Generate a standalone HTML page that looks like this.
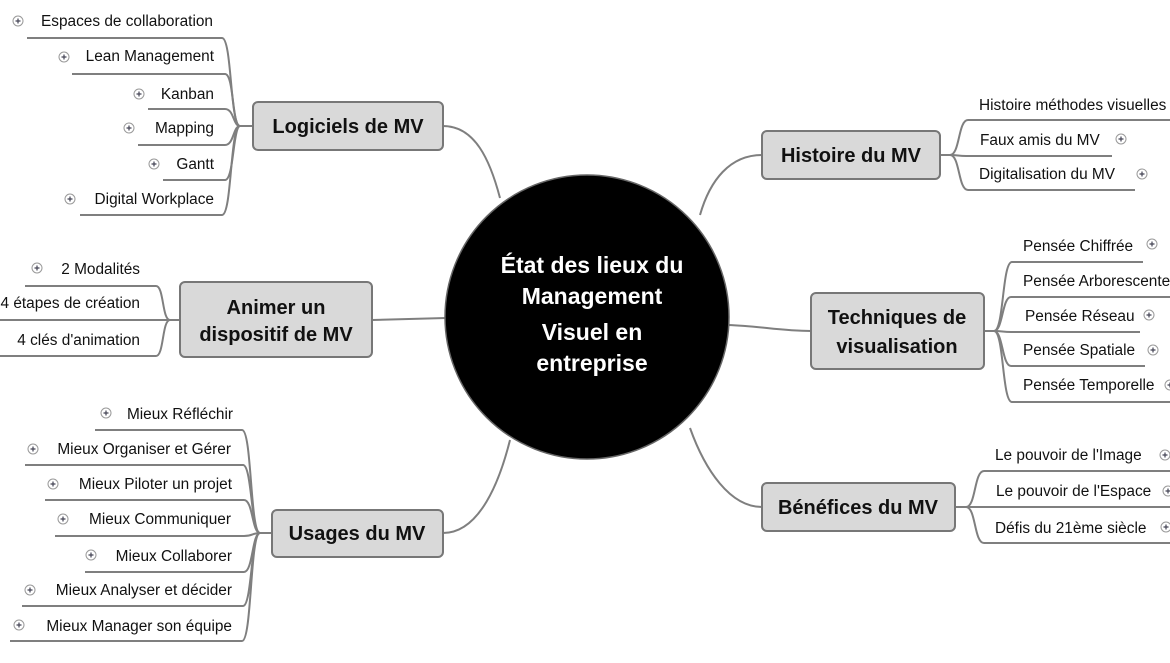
<!DOCTYPE html>
<html><head><meta charset="utf-8"><style>
html,body{margin:0;padding:0;background:#fff;}
svg{display:block;font-family:"Liberation Sans",sans-serif;}
.l{fill:none;stroke:#7f7f7f;stroke-width:2;}
.t{font-size:15.4px;fill:#111;}
.b{font-size:20px;font-weight:bold;fill:#111;text-anchor:middle;}
.box{fill:#d9d9d9;stroke:#777;stroke-width:2;}
</style></head><body>
<svg width="1170" height="663" viewBox="0 0 1170 663">
<defs>
<g id="p"><circle cx="0" cy="0" r="5" fill="#fff" stroke="#999" stroke-width="1"/><path d="M-2.5 0H2.5M0 -2.5V2.5" stroke="#445" stroke-width="1.2" fill="none"/></g>
</defs>
<!-- main connectors -->
<path class="l" d="M443 126 C475 126 490 160 500 198"/>
<path class="l" d="M372 320 L446 318"/>
<path class="l" d="M443 533 C480 533 500 480 510 440"/>
<path class="l" d="M762 155 C730 155 710 180 700 215"/>
<path class="l" d="M811 331 C780 331 760 326 728 325"/>
<path class="l" d="M762 507 C730 507 705 470 690 428"/>
<!-- Logiciels leaves -->
<g class="l">
<path d="M253 126 H240 C230 126 232 38 222 38 H27"/>
<path d="M240 126 C232 126 234 74 225 74 H72"/>
<path d="M240 126 C233 126 234 109 225 109 H148"/>
<path d="M240 126 C233 126 234 145 225 145 H138"/>
<path d="M240 126 C233 126 234 180 225 180 H163"/>
<path d="M240 126 C230 126 232 215 222 215 H80"/>
</g>
<g class="t" text-anchor="end">
<text x="213" y="26">Espaces de collaboration</text>
<text x="214" y="61">Lean Management</text>
<text x="214" y="99">Kanban</text>
<text x="214" y="133">Mapping</text>
<text x="214" y="169">Gantt</text>
<text x="214" y="204">Digital Workplace</text>
</g>
<!-- Animer leaves -->
<g class="l">
<path d="M180 320 H170 C162 320 164 286 156 286 H25"/>
<path d="M170 320 H0"/>
<path d="M170 320 C162 320 164 356 156 356 H0"/>
</g>
<g class="t" text-anchor="end">
<text x="140" y="274">2 Modalités</text>
<text x="140" y="308">4 étapes de création</text>
<text x="140" y="345">4 clés d'animation</text>
</g>
<!-- Usages leaves -->
<g class="l">
<path d="M272 533 H260 C250 533 252 430 242 430 H95"/>
<path d="M260 533 C251 533 252 465 243 465 H25"/>
<path d="M260 533 C252 533 253 500 244 500 H45"/>
<path d="M260 533 C252 533 253 536 244 536 H55"/>
<path d="M260 533 C252 533 253 572 244 572 H85"/>
<path d="M260 533 C251 533 252 606 243 606 H22"/>
<path d="M260 533 C250 533 252 641 242 641 H10"/>
</g>
<g class="t" text-anchor="end">
<text x="233" y="419">Mieux Réfléchir</text>
<text x="231" y="454">Mieux Organiser et Gérer</text>
<text x="232" y="489">Mieux Piloter un projet</text>
<text x="231" y="524">Mieux Communiquer</text>
<text x="232" y="561">Mieux Collaborer</text>
<text x="232" y="595">Mieux Analyser et décider</text>
<text x="232" y="631">Mieux Manager son équipe</text>
</g>
<!-- Histoire leaves -->
<g class="l">
<path d="M940 155 H950 C960 155 958 120 968 120 H1170"/>
<path d="M950 155 C958 155 958 156 966 156 H1112"/>
<path d="M950 155 C960 155 958 190 968 190 H1135"/>
</g>
<g class="t">
<text x="979" y="110">Histoire méthodes visuelles</text>
<text x="980" y="145">Faux amis du MV</text>
<text x="979" y="179">Digitalisation du MV</text>
</g>
<!-- Techniques leaves -->
<g class="l">
<path d="M984 331 H994 C1004 331 1002 262 1012 262 H1143"/>
<path d="M994 331 C1003 331 1002 297 1011 297 H1170"/>
<path d="M994 331 C1003 331 1002 332 1011 332 H1140"/>
<path d="M994 331 C1003 331 1002 366 1011 366 H1145"/>
<path d="M994 331 C1004 331 1002 402 1012 402 H1170"/>
</g>
<g class="t">
<text x="1023" y="251">Pensée Chiffrée</text>
<text x="1023" y="286">Pensée Arborescente</text>
<text x="1025" y="321">Pensée Réseau</text>
<text x="1023" y="355">Pensée Spatiale</text>
<text x="1023" y="390">Pensée Temporelle</text>
</g>
<!-- Bénéfices leaves -->
<g class="l">
<path d="M955 507 H966 C976 507 974 471 984 471 H1170"/>
<path d="M966 507 H1170"/>
<path d="M966 507 C976 507 974 543 984 543 H1170"/>
</g>
<g class="t">
<text x="995" y="460">Le pouvoir de l'Image</text>
<text x="996" y="496">Le pouvoir de l'Espace</text>
<text x="995" y="533">Défis du 21ème siècle</text>
</g>
<!-- icons -->
<g>
<use href="#p" x="18" y="21"/><use href="#p" x="64" y="57"/><use href="#p" x="139" y="94"/>
<use href="#p" x="129" y="128"/><use href="#p" x="154" y="164"/><use href="#p" x="70" y="199"/>
<use href="#p" x="37" y="268"/>
<use href="#p" x="106" y="413"/><use href="#p" x="33" y="449"/><use href="#p" x="53" y="484"/>
<use href="#p" x="63" y="519"/><use href="#p" x="91" y="555"/><use href="#p" x="30" y="590"/>
<use href="#p" x="19" y="625"/>
<use href="#p" x="1121" y="139"/><use href="#p" x="1142" y="174"/>
<use href="#p" x="1152" y="244"/><use href="#p" x="1149" y="315"/><use href="#p" x="1153" y="350"/>
<use href="#p" x="1170" y="385"/>
<use href="#p" x="1165" y="455"/><use href="#p" x="1168" y="491"/><use href="#p" x="1166" y="527"/>
</g>
<!-- boxes -->
<rect class="box" x="253" y="102" width="190" height="48" rx="5"/>
<text class="b" x="348" y="133">Logiciels de MV</text>
<rect class="box" x="180" y="282" width="192" height="75" rx="5"/>
<text class="b" x="276" y="314">Animer un</text>
<text class="b" x="276" y="341">dispositif de MV</text>
<rect class="box" x="272" y="510" width="171" height="47" rx="5"/>
<text class="b" x="357" y="540">Usages du MV</text>
<rect class="box" x="762" y="131" width="178" height="48" rx="5"/>
<text class="b" x="851" y="162">Histoire du MV</text>
<rect class="box" x="811" y="293" width="173" height="76" rx="5"/>
<text class="b" x="897" y="324">Techniques de</text>
<text class="b" x="897" y="353">visualisation</text>
<rect class="box" x="762" y="483" width="193" height="48" rx="5"/>
<text class="b" x="858" y="514">Bénéfices du MV</text>
<!-- center -->
<circle cx="587" cy="317" r="142" fill="#000" stroke="#666" stroke-width="1.5"/>
<g fill="#fff" font-size="23" font-weight="bold" text-anchor="middle">
<text x="592" y="273">État des lieux du</text>
<text x="592" y="304">Management</text>
<text x="592" y="340">Visuel en</text>
<text x="592" y="371">entreprise</text>
</g>
</svg>
</body></html>
